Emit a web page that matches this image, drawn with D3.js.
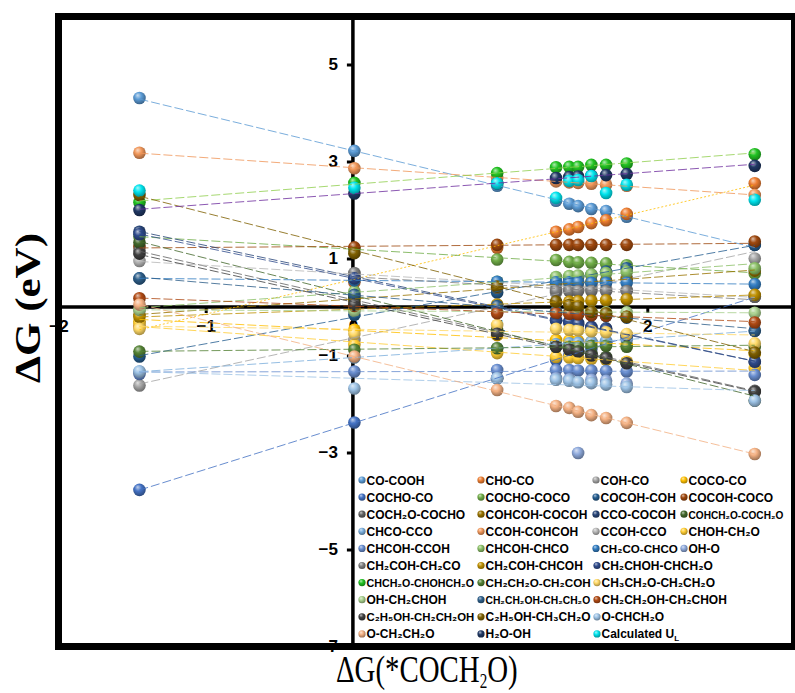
<!DOCTYPE html>
<html><head><meta charset="utf-8">
<script src="https://cdn.jsdelivr.net/npm/d3@7"></script>
<style>body{margin:0;background:#fff}</style>
</head><body>
<svg id="c" width="795" height="693"></svg>
<script>
// ---------- DATA ----------
const xPositions = [-1.45, 0.01, 0.98, 1.38, 1.47, 1.53, 1.62, 1.72, 1.86, 2.73];
const seriesNames = ["CO-COOH","CHO-CO","COH-CO","COCO-CO",
 "COCHO-CO","COCHO-COCO","COCOH-COH","COCOH-COCO",
 "COCH₂O-COCHO","COHCOH-COCOH","CCO-COCOH","COHCH₂O-COCH₂O",
 "CHCO-CCO","CCOH-COHCOH","CCOH-CCO","CHOH-CH₂O",
 "CHCOH-CCOH","CHCOH-CHCO","CH₂CO-CHCO","OH-O",
 "CH₂COH-CH₂CO","CH₂COH-CHCOH","CH₂CHOH-CHCH₂O",
 "CHCH₂O-CHOHCH₂O","CH₂CH₂O-CH₂COH","CH₃CH₂O-CH₂CH₂O",
 "OH-CH₂CHOH","CH₂CH₂OH-CH₂CH₂O","CH₂CH₂OH-CH₂CHOH",
 "C₂H₅OH-CH₂CH₂OH","C₂H₅OH-CH₃CH₂O","O-CHCH₂O",
 "O-CH₂CH₂O","H₂O-OH","Calculated U"];
const markerColors = ["#5b9bd5","#ed7d31","#a5a5a5","#ffc000",
 "#4472c4","#70ad47","#255e91","#9e480e",
 "#636363","#997300","#264478","#43682b",
 "#7cafdd","#f1975a","#b7b7b7","#ffcd33",
 "#698ed0","#8cc168","#327dc2","#8faadc",
 "#7f7f7f","#bf9000","#2f4b8c",
 "#22c322","#548235","#ffd966",
 "#a9d18e","#2e5f8a","#b04a14",
 "#404040","#7f6000","#9dc3e6",
 "#f4b183","#203864","#00e5ee"];
const lineColors = ["#5b9bd5","#ffc000","#a5a5a5","#ffc000",
 "#4472c4","#70ad47","#255e91","#9e480e",
 "#636363","#997300","#264478","#43682b",
 "#7cafdd","#f1975a","#b7b7b7","#ffcd33",
 "#698ed0","#8cc168","#327dc2","none",
 "#7f7f7f","#bf9000","#2f4b8c",
 "#92d050","#548235","#ffd966",
 "#a9d18e","#2e5f8a","#b04a14",
 "#404040","#7f6000","#9dc3e6",
 "#f4b183","#7030a0","none"];
const lineStyles = ["dash","dot","dash","dash","dash","dash","dash","dash","dash","dash","dash","dash",
 "dash","dash","dash","dash","dash","dash","dash","none","dash","dash","dash","dash","dash","dash",
 "dash","dash","dash","dash","dash","dash","dash","dash","none"];

const v01 = [4.31, 3.22, 2.50, 2.19, 2.13, 2.08, 2.02, 1.98, 1.86, 1.28];
const v02 = [-0.41, 0.51, 1.22, 1.55, 1.60, 1.65, 1.73, 1.79, 1.92, 2.55];
const v03 = [-1.62, -0.68, 0.02, 0.30, 0.36, 0.40, 0.46, 0.52, 0.60, 1.00];
const v04 = [-0.30, -0.47, -0.58, -0.68, -0.69, -0.70, -0.72, -0.74, -0.78, -0.97];
const v05 = [-3.77, -2.38, -1.47, -1.09, -1.00, -0.94, -0.86, -0.76, -0.63, 0.22];
const v06 = [1.45, 1.19, 0.98, 0.97, 0.93, 0.92, 0.91, 0.90, 0.86, 0.69];
const v07 = [-1.02, -0.16, 0.30, 0.52, 0.58, 0.62, 0.66, 0.73, 0.80, 1.28];
const v08 = [1.24, 1.23, 1.28, 1.28, 1.28, 1.28, 1.28, 1.28, 1.28, 1.35];
const v09 = [1.16, 0.11, -0.51, -0.78, -0.85, -0.90, -0.96, -1.03, -1.15, -1.73];
const v10 = [-0.16, 0.16, 0.40, 0.47, 0.49, 0.50, 0.52, 0.54, 0.57, 0.75];
const v11 = [1.55, 0.62, 0.01, -0.27, -0.30, -0.33, -0.41, -0.44, -0.58, -1.13];
const v12 = [1.33, 0.20, -0.48, -0.80, -0.86, -0.90, -0.97, -1.04, -1.15, -1.93];
const v13 = [-1.33, -1.04, -0.85, -0.77, -0.75, -0.74, -0.72, -0.70, -0.67, -0.49];
const v14 = [3.18, 2.86, 2.66, 2.59, 2.57, 2.56, 2.54, 2.52, 2.50, 2.31];
const v15 = [0.95, 0.67, 0.50, 0.44, 0.42, 0.41, 0.39, 0.38, 0.35, 0.21];
const v16 = [-0.35, -0.78, -0.95, -1.03, -1.04, -1.05, -1.07, -1.09, -1.13, -1.26];
const v17 = [-1.38, -1.33, -1.30, -1.30, -1.30, -1.31, -1.31, -1.32, -1.33, -1.40];
const v18 = [-0.06, 0.32, 0.52, 0.62, 0.64, 0.65, 0.67, 0.70, 0.72, 0.80];
const v19 = [0.59, 0.55, 0.52, 0.51, 0.51, 0.51, 0.50, 0.50, 0.50, 0.47];
const v20 = [null, null, -1.47, -1.47, -1.49, -3.01, -1.50, -1.52, -1.58, null];
const v21 = [null, 0.70, 0.40, 0.33, 0.33, 0.33, 0.33, 0.33, 0.33, 0.21];
const v22 = [-0.20, -0.05, 0.05, 0.10, 0.11, 0.12, 0.13, 0.14, 0.16, 0.25];
const v23 = [1.50, 0.59, -0.02, -0.28, -0.32, -0.36, -0.42, -0.47, -0.58, -1.13];
const v24 = [2.16, 2.56, 2.76, 2.88, 2.89, 2.89, 2.93, 2.93, 2.96, 3.15];
const v25 = [-0.92, -0.88, -0.85, -0.82, -0.82, -0.82, -0.80, -0.80, -0.82, -0.82];
const v26 = [-0.45, -0.55, -0.37, -0.45, -0.47, -0.48, -0.50, -0.52, -0.56, -0.75];
const v27 = [-0.06, -0.08, -0.09, -0.10, -0.10, -0.10, -0.10, -0.11, -0.11, -0.12];
const v28 = [0.59, 0.25, 0.02, -0.10, -0.12, -0.14, -0.16, -0.18, -0.22, -0.49];
const v29 = [0.18, 0.02, -0.13, -0.13, -0.14, -0.15, -0.17, -0.18, -0.20, -0.32];
const v30 = [1.10, 0.05, -0.55, -0.82, -0.88, -0.92, -1.00, -1.06, -1.16, -1.75];
const v31 = [2.31, 1.11, 0.42, 0.11, 0.04, 0.01, -0.10, -0.13, -0.20, -0.94];
const v32 = [-1.33, -1.68, -1.47, -1.50, -1.52, -1.55, -1.57, -1.60, -1.65, -1.93];
const v33 = [0.05, -1.02, -1.71, -2.04, -2.08, -2.16, -2.23, -2.29, -2.39, -3.03];
const v34 = [2.00, 2.34, 2.55, 2.66, 2.68, 2.69, 2.71, 2.72, 2.74, 2.91];
const v35 = [2.40, 2.46, 2.55, 2.25, 2.60, 2.62, 2.70, 2.35, 2.52, 2.21];
const seriesValues = [v01,v02,v03,v04,v05,v06,v07,v08,v09,v10,v11,v12,v13,v14,v15,v16,v17,v18,
 v19,v20,v21,v22,v23,v24,v25,v26,v27,v28,v29,v30,v31,v32,v33,v34,v35];

const yTickValues = [5, 3, 1, -1, -3, -5, -7];
const xTickValues = [-2, -1, 0, 1, 2];

// ---------- CHART ----------
const svg = d3.select("#c");
const x = d3.scaleLinear().domain([-2, 3]).range([58.5, 794.5]);
const y = d3.scaleLinear().domain([-7, 6]).range([646.5, 16]);

const defs = svg.append("defs");
markerColors.forEach((c, i) => {
  const g = defs.append("radialGradient").attr("id", "g" + i)
    .attr("cx", "45%").attr("cy", "40%").attr("r", "62%").attr("fx", "35%").attr("fy", "28%");
  g.append("stop").attr("offset", "0%").attr("stop-color", d3.interpolateRgb(c, "#ffffff")(0.65));
  g.append("stop").attr("offset", "45%").attr("stop-color", c);
  g.append("stop").attr("offset", "100%").attr("stop-color", d3.color(c).darker(1.3));
});

// axes through origin
svg.append("line").attr("x1", x(-2)).attr("x2", x(3)).attr("y1", y(0)).attr("y2", y(0))
  .attr("stroke", "#000").attr("stroke-width", 3.5);
svg.append("line").attr("x1", x(0)).attr("x2", x(0)).attr("y1", y(6)).attr("y2", y(-7))
  .attr("stroke", "#000").attr("stroke-width", 3.5);

const yAxis = d3.axisLeft(y).tickValues(yTickValues).tickSize(6).tickPadding(9).tickFormat(d3.format("d"));
const gy = svg.append("g").attr("transform", `translate(${x(0)},0)`).call(yAxis);
gy.select(".domain").remove();
gy.selectAll(".tick line").attr("stroke-width", 3);
gy.selectAll(".tick text").attr("font-family", "Liberation Sans, Arial, sans-serif")
  .attr("font-weight", "bold").attr("font-size", 17).attr("fill", "#000");

const xAxis = d3.axisBottom(x).tickValues(xTickValues).tickSize(6).tickPadding(7).tickFormat(d3.format("d"));
const gx = svg.append("g").attr("transform", `translate(0,${y(0)})`).call(xAxis);
gx.select(".domain").remove();
gx.selectAll(".tick line").attr("stroke-width", 3);
gx.selectAll(".tick text").attr("font-family", "Liberation Sans, Arial, sans-serif")
  .attr("font-weight", "bold").attr("font-size", 17).attr("fill", "#000");

// points
seriesValues.forEach((vals, i) => {
  const pts = vals.map((v, j) => [xPositions[j], v]).filter(p => p[1] !== null);
  svg.append("g").selectAll("circle").data(pts).join("circle")
    .attr("cx", d => x(d[0])).attr("cy", d => y(d[1])).attr("r", 6.3)
    .attr("fill", `url(#g${i})`);
});

// trend lines (least squares on each series)
seriesValues.forEach((vals, i) => {
  if (lineStyles[i] === "none") return;
  const pts = vals.map((v, j) => [xPositions[j], v]).filter(p => p[1] !== null);
  const mx = d3.mean(pts, p => p[0]), my = d3.mean(pts, p => p[1]);
  const sxy = d3.sum(pts, p => (p[0] - mx) * (p[1] - my));
  const sxx = d3.sum(pts, p => (p[0] - mx) ** 2);
  const b = sxy / sxx, a = my - b * mx;
  const x0 = d3.min(pts, p => p[0]), x1 = d3.max(pts, p => p[0]);
  svg.append("line")
    .attr("x1", x(x0)).attr("y1", y(a + b * x0)).attr("x2", x(x1)).attr("y2", y(a + b * x1))
    .attr("stroke", lineColors[i]).attr("stroke-width", 1).attr("opacity", 0.8)
    .attr("stroke-dasharray", lineStyles[i] === "dot" ? "2,2" : "9,3");
});

// legend
const lg = svg.append("g");
lg.append("rect").attr("x", 355).attr("y", 469).attr("width", 436).attr("height", 174).attr("fill", "#fff");
const colX4 = [362, 481, 596, 684];
const colX3 = [362, 481, 597];
seriesNames.forEach((n, i) => {
  let row, cx, avail;
  if (i < 20) { row = Math.floor(i / 4); const c = i % 4; cx = colX4[c]; avail = (c < 3 ? colX4[c + 1] - 6 : 784) - (cx + 4.5); }
  else { row = 5 + Math.floor((i - 20) / 3); const c = (i - 20) % 3; cx = colX3[c]; avail = (c < 2 ? colX3[c + 1] - 6 : 784) - (cx + 4.5); }
  const cy = 480 + row * 17.1;
  lg.append("circle").attr("cx", cx).attr("cy", cy).attr("r", 3.6).attr("fill", `url(#g${i})`);
  const t = lg.append("text").attr("x", cx + 4.5).attr("y", cy + 4.5)
    .attr("font-family", "Liberation Sans, Arial, sans-serif").attr("font-weight", "bold")
    .attr("font-size", 12).attr("fill", "#000").text(n);
  if (i === 34) t.append("tspan").attr("font-size", 8).attr("dy", 3).text("L");
  const w = t.node().getComputedTextLength();
  if (w > avail) t.attr("font-size", Math.floor(12 * avail / w * 10) / 10);
});

// frame
svg.append("rect").attr("x", 58.5).attr("y", 16.5).attr("width", 736).attr("height", 630)
  .attr("fill", "none").attr("stroke", "#000").attr("stroke-width", 7);

// axis titles
svg.append("text").attr("transform", "translate(336,682) scale(0.76,1)")
  .attr("font-family", "Liberation Serif, Times New Roman, serif").attr("font-size", 38).attr("fill", "#000")
  .call(t => { t.append("tspan").text("ΔG(*COCH"); t.append("tspan").attr("font-size", 20).attr("dy", 6).text("2"); t.append("tspan").attr("dy", -6).text("O)"); });
svg.append("text").attr("transform", "translate(40,308) rotate(-90)").attr("text-anchor", "middle")
  .attr("font-family", "Liberation Serif, Times New Roman, serif").attr("font-weight", "bold")
  .attr("font-size", 36).attr("textLength", 150).attr("lengthAdjust", "spacingAndGlyphs")
  .attr("fill", "#000").text("ΔG (eV)");
</script>
</body></html>
